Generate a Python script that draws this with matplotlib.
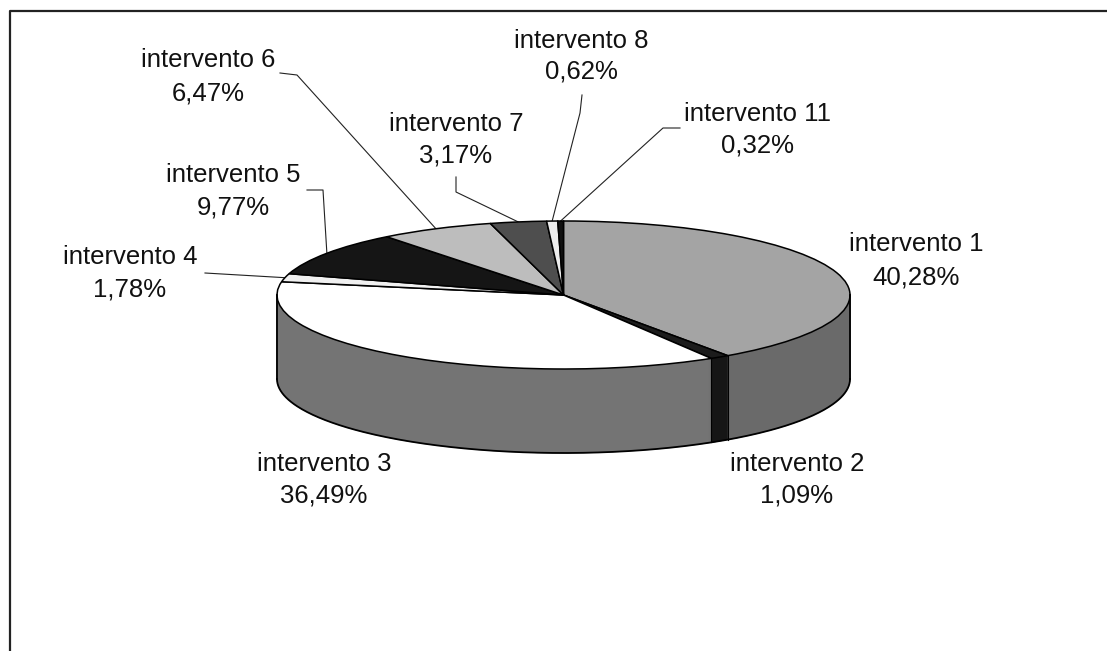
import numpy as np
import matplotlib
matplotlib.use("Agg")
import matplotlib.pyplot as plt

# --- data -------------------------------------------------------------
categories = ["intervento 1", "intervento 2", "intervento 3", "intervento 4",
              "intervento 5", "intervento 6", "intervento 7", "intervento 8",
              "intervento 11"]
shares = [40.28, 1.09, 36.49, 1.78, 9.77, 6.47, 3.17, 0.62, 0.32]

# --- styling ------------------------------------------------------------
top_colors = ["#a4a4a4", "#1c1c1c", "#ffffff", "#f0f0f0", "#151515",
              "#bdbdbd", "#4e4e4e", "#ececec", "#111111"]
side_colors = ["#6a6a6a", "#161616", "#747474", "#c8c8c8", "#0e0e0e",
               "#8a8a8a", "#3a3a3a", "#c0c0c0", "#0c0c0c"]

W, H = 1107, 651
fig = plt.figure(figsize=(W / 100, H / 100), dpi=100, facecolor="white")

# full-figure overlay in pixel units for frame, labels and leader lines
over = fig.add_axes([0, 0, 1, 1])
over.set_xlim(0, W)
over.set_ylim(H, 0)
over.axis("off")

# ellipse geometry of the 3-D pie (pixels)
cx, cy, a, b, depth = 563.5, 295.0, 286.5, 74.0, 84
top_px = cy - b
bot_px = cy + b + depth
pie_ax = fig.add_axes([(cx - a) / W, (H - bot_px) / H, 2 * a / W, (bot_px - top_px) / H])
pie_ax.patch.set_alpha(0)
d = depth / b

pie_kw = dict(startangle=90, counterclock=False, radius=1.0)

# side wall: stack of shifted pies from the bottom up
for k in np.linspace(d, 0, depth, endpoint=False):
    wedges, _ = pie_ax.pie(shares, colors=side_colors, center=(0, -k),
                           wedgeprops=dict(linewidth=0.6), **pie_kw)
    for w in wedges:
        w.set_edgecolor(w.get_facecolor())
        w.set_clip_on(False)

# top face
wedges, _ = pie_ax.pie(shares, colors=top_colors, center=(0, 0),
                       wedgeprops=dict(edgecolor="black", linewidth=1.1), **pie_kw)
for w in wedges:
    w.set_clip_on(False)

pie_ax.set_aspect("auto")
pie_ax.set_xlim(-1, 1)
pie_ax.set_ylim(-1 - d, 1)
pie_ax.axis("off")

# outline of the side wall
t = np.linspace(np.pi, 2 * np.pi, 300)
pie_ax.plot(np.cos(t), np.sin(t) - d, color="black", lw=1.3, clip_on=False, zorder=5)
for sx in (-1, 1):
    pie_ax.plot([sx, sx], [0, -d], color="black", lw=1.3, clip_on=False, zorder=5)

total = sum(shares)
cum = np.cumsum(shares) / total * 360.0
for ang in cum[:-1]:
    th = np.deg2rad(ang)
    if np.cos(th) < 0:
        pie_ax.plot([np.sin(th)] * 2, [np.cos(th), np.cos(th) - d],
                    color="black", lw=0.8, clip_on=False, zorder=5)

# mid-angle anchor of each slice on the top rim, in overlay pixels
mid = cum - np.array(shares) / total * 360.0 / 2
to_px = over.transData.inverted()
anchors = {}
for name, ang in zip(categories, mid):
    th = np.deg2rad(ang)
    disp = pie_ax.transData.transform((np.sin(th), np.cos(th)))
    anchors[name] = to_px.transform(disp)

# --- labels -------------------------------------------------------------
label_pos = {
    "intervento 1": (916, 244, 277),
    "intervento 2": (797, 464, 496),
    "intervento 3": (324, 464, 496),
    "intervento 4": (130, 257, 290),
    "intervento 5": (233, 175, 208),
    "intervento 6": (208, 60, 93),
    "intervento 7": (456, 124, 156),
    "intervento 8": (581, 41, 72),
    "intervento 11": (757, 114, 145),
}
leader_elbows = {
    "intervento 4": [(205, 273)],
    "intervento 5": [(307, 190), (323, 190)],
    "intervento 6": [(280, 73), (297, 75)],
    "intervento 7": [(456, 177), (456, 192)],
    "intervento 8": [(582, 95), (580, 113)],
    "intervento 11": [(680, 128), (663, 128)],
}

font = dict(family=["Liberation Sans", "DejaVu Sans"], fontsize=18.5, color="#111111")
for name, val in zip(categories, shares):
    x, y1, y2 = label_pos[name]
    over.text(x, y1, name, ha="center", va="center", **font)
    over.text(x, y2, f"{val:.2f}".replace(".", ",") + "%", ha="center", va="center", **font)

for name, pts in leader_elbows.items():
    ax_, ay_ = anchors[name]
    xs = [p[0] for p in pts] + [ax_]
    ys = [p[1] for p in pts] + [ay_]
    over.plot(xs, ys, color="#222222", lw=0.8)

# chart frame
over.plot([10, 10, W], [H, 11, 11], color="#222222", lw=1.6, solid_capstyle="butt")

fig.savefig("out.png", dpi=100, facecolor="white")
